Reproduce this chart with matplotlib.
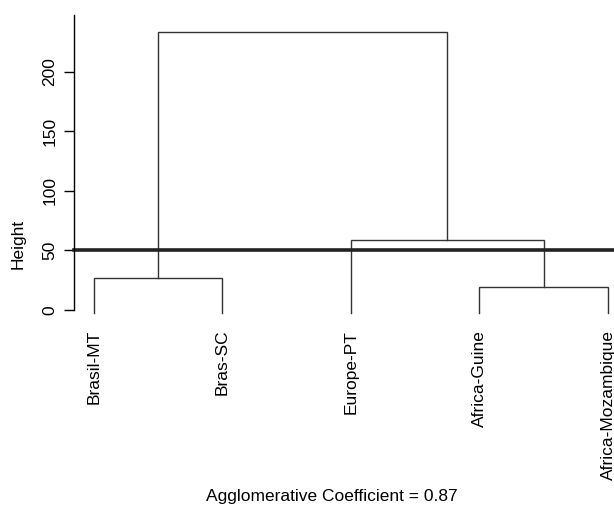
import numpy as np
import matplotlib
matplotlib.use('Agg')
import matplotlib.pyplot as plt

plt.rcParams['font.family'] = ['Liberation Sans', 'DejaVu Sans']

# leaves in plotting order
labels = ['Brasil-MT', 'Bras-SC', 'Europe-PT', 'Africa-Guine', 'Africa-Mozambique']

# R style merge matrix: negative = leaf, positive = earlier merge step
merge = [(-1, -2), (-4, -5), (-3, 2), (1, 3)]
heights = [26.8, 19.0, 58.7, 233.3]

cut_height = 50
coef = 0.87
yticks = [0, 50, 100, 150, 200]

leaf_bottom = -2.5
line_col = '#333333'
fs = 12.5

fig = plt.figure(figsize=(6.14, 5.09), dpi=100)
ax = fig.add_axes([74 / 614, 1 - 314 / 509, 540 / 614, 299 / 509])

node_x = {}
node_y = {}
for i in range(len(labels)):
    node_x[-(i + 1)] = i + 1
    node_y[-(i + 1)] = leaf_bottom

for step, ((a, b), h) in enumerate(zip(merge, heights), start=1):
    xa, xb = node_x[a], node_x[b]
    ya, yb = node_y[a], node_y[b]
    ax.plot([xa, xa, xb, xb], [ya, h, h, yb], color=line_col, lw=1.0,
            solid_joinstyle='miter', clip_on=False)
    node_x[step] = (xa + xb) / 2
    node_y[step] = h

ax.axhline(cut_height, color='#222222', lw=2.6, clip_on=False)

for i, lab in enumerate(labels):
    ax.annotate(lab, (i + 1, leaf_bottom), xytext=(0, -12), textcoords='offset points',
                rotation=90, ha='center', va='top', fontsize=fs, annotation_clip=False)

ax.set_xlim(0.8444, 5.0467)
ax.set_ylim(-3.36, 247.6)

for side in ['top', 'right', 'bottom']:
    ax.spines[side].set_visible(False)
ax.spines['left'].set_bounds(0, 247.6)
ax.spines['left'].set_linewidth(1.0)
ax.set_xticks([])
ax.set_yticks(yticks)
ax.set_yticklabels([str(t) for t in yticks], rotation=90, va='center', fontsize=fs)
ax.tick_params(axis='y', length=7, width=1.0, pad=5)

fig.text(18 / 614, 1 - 244 / 509, 'Height', rotation=90, ha='center', va='center', fontsize=fs)
fig.text(332 / 614, 1 - 497 / 509, f'Agglomerative Coefficient = {coef}',
         ha='center', va='center', fontsize=fs)

fig.savefig('out.png', dpi=100)
